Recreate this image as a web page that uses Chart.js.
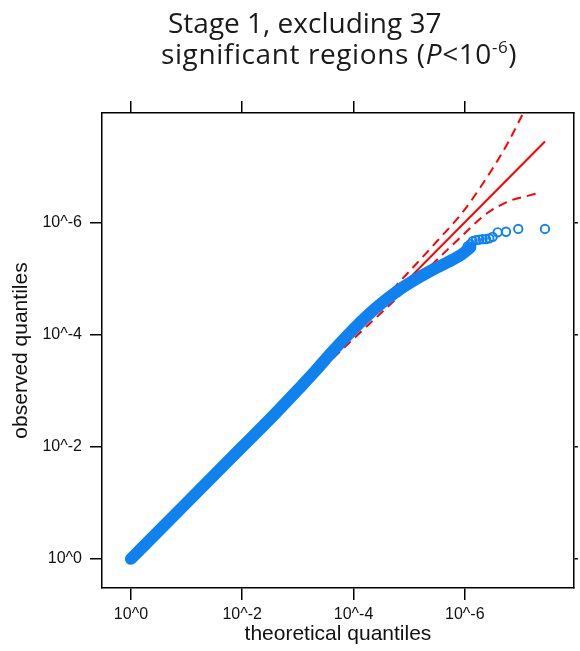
<!DOCTYPE html>
<html lang="en">
<head>
    <meta charset="UTF-8">
    <title>Stage 1 QQ plot</title>
    <style>
        body {
            margin: 0;
            padding: 0;
            background-color: white;
        }
        .wrap {
            position: relative;
            width: 580px;
            height: 651px;
            overflow: hidden;
        }
        .chart-box {
            position: absolute;
            left: 0;
            top: 0;
            width: 580px;
            height: 651px;
        }
        .title {
            position: absolute;
            font-family: 'Open Sans', sans-serif;
            font-size: 28px;
            line-height: 28px;
            color: #1a1a1a;
            white-space: nowrap;
        }
        #t1 { left: 168px; top: 8px; }
        #t2 { left: 161px; top: 39px; letter-spacing: 0.6px; }
        .title sup {
            font-size: 17px;
            position: relative;
            top: -11px;
            vertical-align: baseline;
        }
    </style>
    <script src="https://cdn.jsdelivr.net/npm/chart.js"></script>
</head>
<body>
<div class="wrap">
    <div class="chart-box"><canvas id="qqChart"></canvas></div>
    <div class="title" id="t1">Stage 1, excluding 37</div>
    <div class="title" id="t2">significant regions (<i>P</i>&lt;10<sup>-6</sup>)</div>
</div>

<script>
    // -log10 quantiles
    const tickValues = [0, 2, 4, 6];
    const tickLabels = ['10^0', '10^-2', '10^-4', '10^-6'];

    // dense part of the observed points (drawn as a thick band)
    const bulkX = [0, 1, 2, 2.6, 3.0, 3.3, 3.6, 3.9, 4.2, 4.5, 4.8, 5.1, 5.4, 5.7, 5.95, 6.1];
    const bulkY = [0, 1, 2, 2.6, 3.02, 3.34, 3.68, 4.0, 4.3, 4.56, 4.79, 4.98, 5.15, 5.3, 5.44, 5.56];

    // separate points at the tail
    const tailX = [6.05, 6.1, 6.14, 6.2, 6.26, 6.32, 6.38, 6.44, 6.5, 6.59, 6.74, 6.96, 7.44];
    const tailY = [5.58, 5.62, 5.67, 5.69, 5.7, 5.71, 5.71, 5.72, 5.75, 5.83, 5.84, 5.89, 5.89];

    // expected line and 95% band
    const nullX = [0, 7.44];
    const nullY = [0, 7.45];
    const upperX = [0, 3, 4, 5, 5.5, 6, 6.5, 6.77, 7.05, 7.44];
    const upperY = [0, 3.03, 4.07, 5.13, 5.67, 6.24, 6.97, 7.42, 7.96, 8.7];
    const lowerX = [0, 3, 4, 5, 5.5, 5.9, 6.4, 6.83, 7.13, 7.34];
    const lowerY = [0, 2.97, 3.93, 4.86, 5.34, 5.72, 6.17, 6.4, 6.48, 6.54];

    const axisMin = -0.52;
    const axisMax = 7.96;

    const blue = '#0f82f0';
    const red = '#ff0000';

    function pts(xs, ys) {
        return xs.map((x, i) => ({ x: x, y: ys[i] }));
    }

    function fixedTicks(scale) {
        scale.ticks = tickValues.map(v => ({ value: v }));
    }

    const tickFont = { family: "'Liberation Sans', Arial, sans-serif", size: 16 };
    const titleFont = { family: "'Liberation Sans', Arial, sans-serif", size: 21 };

    function axis(position, tickLen, showLabels, fitSize) {
        return {
            type: 'linear',
            position: position,
            min: axisMin,
            max: axisMax,
            afterBuildTicks: fixedTicks,
            afterFit: function(s) {
                if (s.isHorizontal()) s.height = fitSize; else s.width = fitSize;
            },
            grid: {
                display: true,
                drawOnChartArea: false,
                drawTicks: true,
                tickLength: tickLen,
                color: '#000',
                lineWidth: 1.5
            },
            border: { display: true, color: '#000', width: 1.5 },
            ticks: {
                display: showLabels,
                color: '#111',
                font: tickFont,
                maxRotation: 0,
                padding: position === 'left' ? 8 : 5,
                callback: function(value) {
                    const i = tickValues.indexOf(value);
                    return i >= 0 ? tickLabels[i] : '';
                }
            }
        };
    }

    const xAxis = axis('bottom', 12, true, 63);
    xAxis.title = { display: true, text: 'theoretical quantiles', color: '#111', font: titleFont, padding: { top: 0, bottom: 4 } };
    const yAxis = axis('left', 12, true, 102);
    yAxis.title = { display: true, text: 'observed quantiles', color: '#111', font: titleFont, padding: { top: 9, bottom: 0 } };

    new Chart(document.getElementById('qqChart'), {
        type: 'scatter',
        data: {
            datasets: [
                {
                    label: 'tail',
                    data: pts(tailX, tailY),
                    pointRadius: 4.2,
                    pointBorderWidth: 1.9,
                    pointBorderColor: blue,
                    pointBackgroundColor: 'rgba(255,255,255,0)',
                    order: 0
                },
                {
                    label: 'observed',
                    data: pts(bulkX, bulkY),
                    showLine: true,
                    pointRadius: 0,
                    borderColor: blue,
                    borderWidth: 12,
                    borderCapStyle: 'round',
                    borderJoinStyle: 'round',
                    cubicInterpolationMode: 'monotone',
                    order: 1
                },
                {
                    label: 'expected',
                    data: pts(nullX, nullY),
                    showLine: true,
                    pointRadius: 0,
                    borderColor: red,
                    borderWidth: 2,
                    order: 2
                },
                {
                    label: 'upper',
                    data: pts(upperX, upperY),
                    showLine: true,
                    pointRadius: 0,
                    borderColor: red,
                    borderWidth: 2,
                    borderDash: [9, 6],
                    cubicInterpolationMode: 'monotone',
                    order: 2
                },
                {
                    label: 'lower',
                    data: pts(lowerX, lowerY),
                    showLine: true,
                    pointRadius: 0,
                    borderColor: red,
                    borderWidth: 2,
                    borderDash: [9, 6],
                    cubicInterpolationMode: 'monotone',
                    order: 2
                }
            ]
        },
        options: {
            responsive: true,
            maintainAspectRatio: false,
            animation: false,
            layout: { padding: { top: 101, left: 0, right: 0, bottom: 0 } },
            scales: {
                x: xAxis,
                x2: axis('top', 12, false, 12),
                y: yAxis,
                y2: axis('right', 4, false, 4)
            },
            plugins: {
                legend: { display: false },
                tooltip: { enabled: false }
            }
        }
    });
</script>
</body>
</html>
